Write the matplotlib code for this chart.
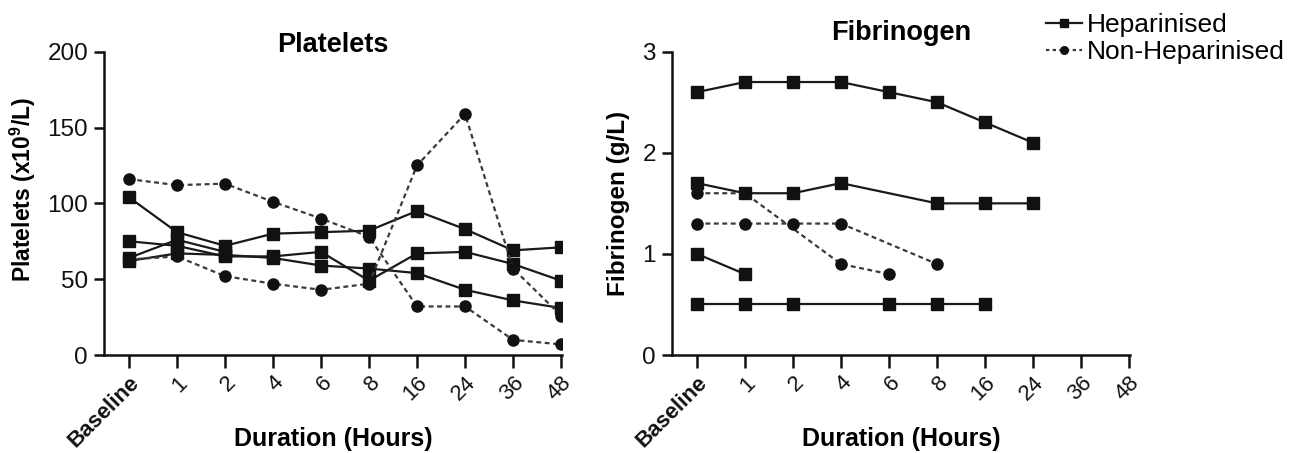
import numpy as np
import matplotlib
matplotlib.use("Agg")
import matplotlib.pyplot as plt
from matplotlib.lines import Line2D

plt.rcParams['font.family'] = ['Liberation Sans', 'DejaVu Sans']
plt.rcParams['mathtext.fontset'] = 'custom'
plt.rcParams['mathtext.rm'] = 'Liberation Sans'
plt.rcParams['mathtext.bf'] = 'Liberation Sans:bold'

categories = ["Baseline", "1", "2", "4", "6", "8", "16", "24", "36", "48"]
nan = np.nan

# Platelets (x10^9/L)
plt_hep = [
    [104, 81, 72, 80, 81, 82, 95, 83, 69, 71],
    [75, 72, 65, 65, 68, 49, 67, 68, 60, 49],
    [62, 67, 66, 64, 59, 57, 54, 43, 36, 31],
    [64, 76, 68, nan, nan, nan, nan, nan, nan, nan],
]
plt_non = [
    [116, 112, 113, 101, 90, 78, 32, 32, 10, 7],
    [63, 65, 52, 47, 43, 47, 125, 159, 57, 26],
]

# Fibrinogen (g/L)
fib_hep = [
    [2.6, 2.7, 2.7, 2.7, 2.6, 2.5, 2.3, 2.1, nan, nan],
    [1.7, 1.6, 1.6, 1.7, nan, 1.5, 1.5, 1.5, nan, nan],
    [1.0, 0.8, nan, nan, nan, nan, nan, nan, nan, nan],
    [0.5, 0.5, 0.5, nan, 0.5, 0.5, 0.5, nan, nan, nan],
]
fib_non = [
    [1.6, 1.6, nan, 0.9, 0.8, nan, nan, nan, nan, nan],
    [1.3, 1.3, 1.3, 1.3, nan, 0.9, nan, nan, nan, nan],
]

W, H = 1294, 453
fig = plt.figure(figsize=(W / 100, H / 100), dpi=100)

def px_axes(x0, x1, y0, y1):
    return fig.add_axes([x0 / W, 1 - y1 / H, (x1 - x0) / W, (y1 - y0) / H])

ax1 = px_axes(104, 562, 51.7, 355)
ax2 = px_axes(672, 1130, 51.7, 355)

HEP = dict(color='#1a1a1a', lw=1.6, ls='-', marker='s', ms=8.5, mfc='#111111', mec='#111111', zorder=3)
NON = dict(color='#3a3a3a', lw=1.6, ls=(0, (2.2, 1.6)), marker='o', ms=8, mfc='#111111', mec='#111111', zorder=3)

def draw(ax, series, style):
    x = np.arange(len(categories))
    for s in series:
        s = np.array(s, dtype=float)
        m = ~np.isnan(s)
        ax.plot(x[m], s[m], **style)

draw(ax1, plt_hep, HEP)
draw(ax1, plt_non, NON)
draw(ax2, fib_hep, HEP)
draw(ax2, fib_non, NON)

for ax in (ax1, ax2):
    ax.set_xlim(-0.52, 9.02)
    ax.spines['top'].set_visible(False)
    ax.spines['right'].set_visible(False)
    for sp in ('left', 'bottom'):
        ax.spines[sp].set_linewidth(1.8)
        ax.spines[sp].set_color('#111111')
    ax.set_xticks(np.arange(len(categories)))
    ax.set_xticklabels(categories, rotation=45, ha='right', va='top',
                       rotation_mode='anchor', fontsize=16)
    ax.get_xticklabels()[0].set_fontweight('bold')
    ax.tick_params(axis='x', length=9.5, width=1.8, direction='out', pad=3, colors='#111111')
    ax.tick_params(axis='y', length=7.5, width=1.8, direction='out', pad=4, labelsize=17.5, colors='#111111')
    ax.set_xlabel("Duration (Hours)", fontsize=18, fontweight='bold')
    ax.xaxis.label.set_va('center')
    ax.xaxis.set_label_coords(0.5, (355 - 439) / 303.3)

ax1.set_ylim(0, 200)
ax1.set_yticks([0, 50, 100, 150, 200])
ax1.set_ylabel(r"Platelets (x10$^{\mathbf{9}}$/L)", fontsize=16.5, fontweight='bold')
ax1.yaxis.label.set_va('center')
ax1.yaxis.set_label_coords(-81 / 458, (355 - 190) / 303.3)
ax1.set_title("Platelets", fontsize=19.5, fontweight='bold', pad=0, y=1.0)

ax2.set_ylim(0, 3)
ax2.set_yticks([0, 1, 2, 3])
ax2.set_ylabel("Fibrinogen (g/L)", fontsize=17.5, fontweight='bold')
ax2.yaxis.label.set_va('center')
ax2.yaxis.set_label_coords(-54 / 458, (355 - 203) / 303.3)
ax2.set_title("Fibrinogen", fontsize=19.5, fontweight='bold', pad=0, y=1.0 + 12 / 303.3)

handles = [
    Line2D([], [], color='#1a1a1a', lw=1.6, ls='-', marker='s', ms=5.5, mfc='#111111', mec='#111111'),
    Line2D([], [], color='#3a3a3a', lw=1.6, ls=(0, (1.5, 1.5)), marker='o', ms=5.5, mfc='#111111', mec='#111111'),
]
fig.legend(handles, ["Heparinised", "Non-Heparinised"], loc='upper left',
           bbox_to_anchor=(1046 / W, 1 - 13 / H), frameon=False, fontsize=19,
           handlelength=1.35, handletextpad=0.2, labelspacing=0.12, borderaxespad=0,
           borderpad=0)

fig.savefig("out.png", dpi=100)
